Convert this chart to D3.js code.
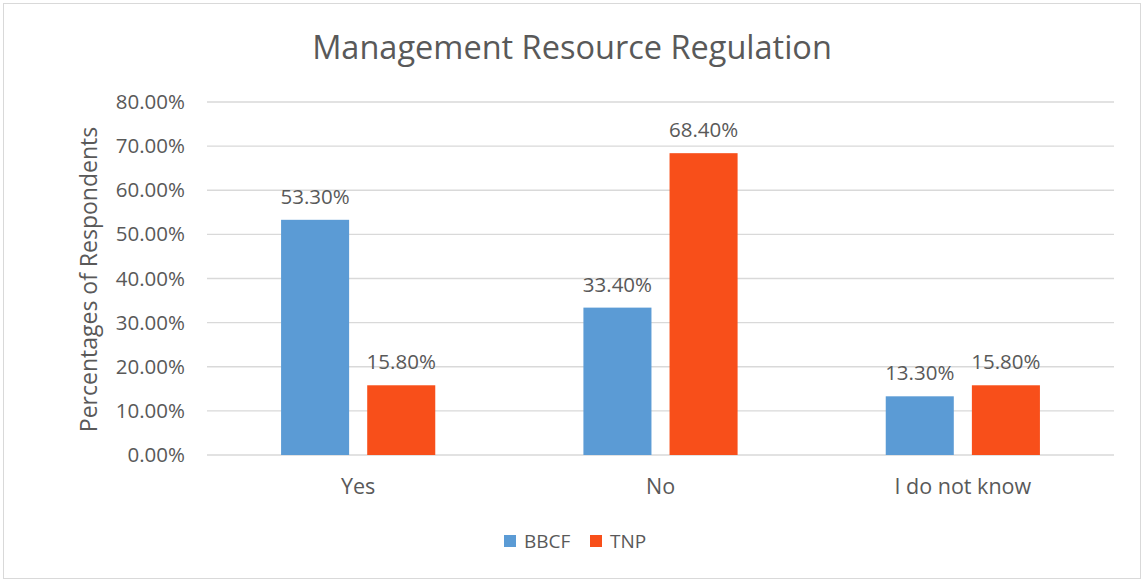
<!DOCTYPE html>
<html>
<head>
<meta charset="utf-8">
<script src="https://cdn.jsdelivr.net/npm/d3@7"></script>
<style>
  body { margin: 0; background: #fff; }
  text { font-family: "Open Sans", "Noto Sans", sans-serif; fill: #595959; }
</style>
</head>
<body>
<div id="chart"></div>
<script>
const categories = ["Yes", "No", "I do not know"];
const seriesNames = ["BBCF", "TNP"];
const bbcf = [53.3, 33.4, 13.3];
const tnp = [15.8, 68.4, 15.8];
const yTicks = [0, 10, 20, 30, 40, 50, 60, 70, 80];
const colors = { BBCF: "#5b9bd5", TNP: "#f84f1a" };

const width = 1144, height = 582;
const margin = { top: 102, right: 30, bottom: 126, left: 207 };
const innerW = 1114 - margin.left;
const innerH = 455 - margin.top;

const svg = d3.select("#chart").append("svg")
    .attr("width", width)
    .attr("height", height);

// chart frame
svg.append("rect")
    .attr("x", 3.5).attr("y", 3.5)
    .attr("width", width - 7).attr("height", height - 7)
    .attr("fill", "#fff")
    .attr("stroke", "#d9d9d9");

const g = svg.append("g").attr("transform", `translate(${margin.left},${margin.top})`);

const x0 = d3.scaleBand().domain(categories).range([0, innerW]).padding(0);
const x1 = d3.scaleBand().domain(seriesNames).range([0, x0.bandwidth()])
    .paddingInner(0.21).paddingOuter(0.86);
const y = d3.scaleLinear().domain([0, 80]).range([innerH, 0]);

// gridlines
g.append("g")
    .selectAll("line")
    .data(yTicks)
    .join("line")
    .attr("x1", 0).attr("x2", innerW)
    .attr("y1", d => y(d)).attr("y2", d => y(d))
    .attr("stroke", "#d9d9d9")
    .attr("stroke-width", 1.3);

// y tick labels
const yAxis = g.append("g")
    .call(d3.axisLeft(y).tickValues(yTicks).tickSize(0).tickPadding(22)
        .tickFormat(d => d.toFixed(2) + "%"));
yAxis.select(".domain").remove();
yAxis.selectAll("text")
    .style("font-size", "20.5px")
    .attr("fill", "#595959")
    .style("font-family", "'Open Sans', sans-serif");

// x axis labels
const xAxis = g.append("g")
    .attr("transform", `translate(0,${innerH})`)
    .call(d3.axisBottom(x0).tickSize(0).tickPadding(24));
xAxis.select(".domain").remove();
xAxis.selectAll("text")
    .style("font-size", "21.5px")
    .attr("fill", "#595959")
    .style("font-family", "'Open Sans', sans-serif");

// bars
const rows = categories.map((c, i) => ({ cat: c, values: [
    { key: "BBCF", value: bbcf[i] },
    { key: "TNP", value: tnp[i] }
] }));

const groups = g.selectAll(".grp")
    .data(rows)
    .join("g")
    .attr("class", "grp")
    .attr("transform", d => `translate(${x0(d.cat)},0)`);

groups.selectAll("rect")
    .data(d => d.values)
    .join("rect")
    .attr("x", d => x1(d.key))
    .attr("width", x1.bandwidth())
    .attr("y", d => y(d.value))
    .attr("height", d => innerH - y(d.value))
    .attr("fill", d => colors[d.key]);

groups.selectAll(".lbl")
    .data(d => d.values)
    .join("text")
    .attr("class", "lbl")
    .attr("x", d => x1(d.key) + x1.bandwidth() / 2)
    .attr("y", d => y(d.value) - 16)
    .attr("text-anchor", "middle")
    .style("font-size", "20.5px")
    .text(d => d.value.toFixed(2) + "%");

// title
svg.append("text")
    .attr("x", 572).attr("y", 59)
    .attr("text-anchor", "middle")
    .style("font-size", "32.5px")
    .text("Management Resource Regulation");

// y axis title
svg.append("text")
    .attr("transform", `translate(97,${margin.top + innerH / 2 + 1}) rotate(-90)`)
    .attr("text-anchor", "middle")
    .style("font-size", "23px")
    .text("Percentages of Respondents");

// legend
const legend = svg.append("g").attr("transform", "translate(504,535)");
seriesNames.forEach((s, i) => {
    const row = legend.append("g").attr("transform", `translate(${i * 86},0)`);
    row.append("rect")
        .attr("width", 12).attr("height", 12)
        .attr("fill", colors[s]);
    row.append("text")
        .attr("x", 20).attr("y", 13)
        .style("font-size", "19px")
        .text(s);
});
</script>
</body>
</html>
